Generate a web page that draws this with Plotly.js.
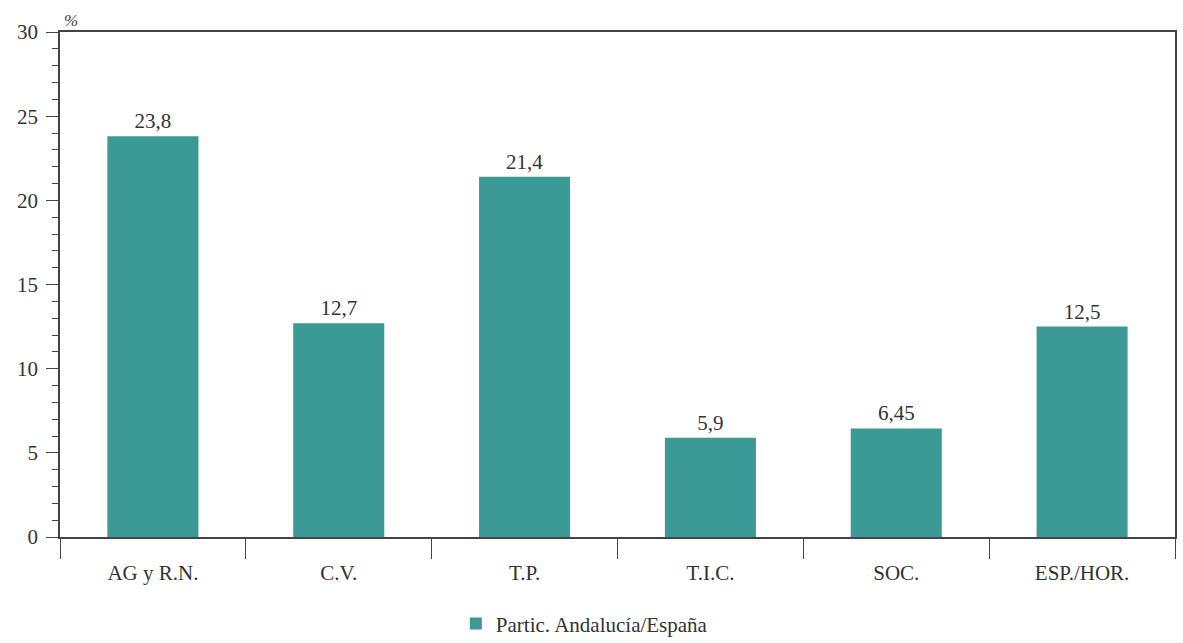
<!DOCTYPE html>
<html>
<head>
<meta charset="utf-8">
<script src="https://cdn.plot.ly/plotly-3.0.1.min.js"></script>
<style>html,body{margin:0;padding:0;background:#fff;}#chart{width:1183px;height:643px;}</style>
</head>
<body>
<div id="chart"></div>
<script>
const categories = ["AG y R.N.", "C.V.", "T.P.", "T.I.C.", "SOC.", "ESP./HOR."];
const values = [23.8, 12.7, 21.4, 5.9, 6.45, 12.5];
const seriesName = "Partic. Andalucía/España";
const yTickVals = [0, 5, 10, 15, 20, 25, 30];

const fontFam = "Liberation Serif, Times New Roman, serif";
const trace = {
  type: "bar",
  x: categories,
  y: values,
  name: seriesName,
  marker: {color: "#3c9a96", line: {width: 0}},
  texttemplate: "%{y}",
  textposition: "outside",
  cliponaxis: false,
  textfont: {family: fontFam, size: 21, color: "#333"},
  showlegend: true
};
const layout = {
  width: 1183, height: 643,
  margin: {l: 60, r: 8, t: 32, b: 106, autoexpand: false},
  separators: ", ",
  paper_bgcolor: "#fff", plot_bgcolor: "#fff",
  font: {family: fontFam, color: "#333"},
  bargap: 0.51,
  showlegend: true,
  legend: {orientation: "h", x: 0.355, xanchor: "left", y: -0.172, yanchor: "middle",
           font: {family: fontFam, size: 21, color: "#333"}},
  xaxis: {
    type: "category", tickson: "boundaries", ticks: "outside", ticklen: 20, tickwidth: 1,
    tickcolor: "#444", showline: true, linecolor: "#444", linewidth: 1.5, mirror: true, automargin: false,
    showgrid: false, ticklabelstandoff: 16, tickfont: {family: fontFam, size: 21, color: "#333"}
  },
  yaxis: {
    range: [0, 30], tickvals: yTickVals, ticks: "outside", ticklen: 12, tickwidth: 1,
    tickcolor: "#444", showline: true, linecolor: "#444", linewidth: 1.5, mirror: true, automargin: false,
    showgrid: false, zeroline: false, ticklabelstandoff: 4,
    tickfont: {family: fontFam, size: 21, color: "#333"},
    minor: {dtick: 1, ticks: "outside", ticklen: 6, tickcolor: "#444", showgrid: false}
  },
  annotations: [{text: "<i>%</i>", xref: "paper", yref: "paper", x: 0.0, y: 1.0, xanchor: "left", yanchor: "bottom",
                 showarrow: false, font: {family: fontFam, size: 17, color: "#444"}, xshift: 2}]
};
Plotly.newPlot("chart", [trace], layout, {displayModeBar: false});
</script>
</body>
</html>
